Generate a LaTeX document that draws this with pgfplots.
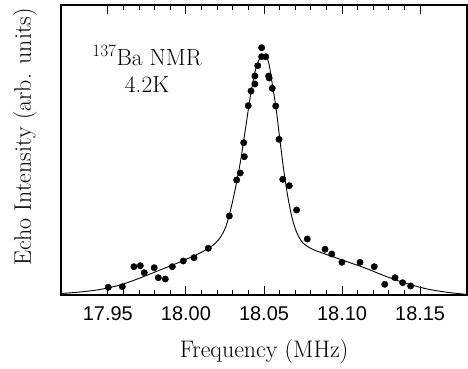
\documentclass[border=0pt]{standalone}
\usepackage{fontspec}
\usepackage{pgfplots}
\pgfplotsset{compat=1.18}
\newfontfamily\tickfont{Liberation Sans}
\begin{document}
\begin{tikzpicture}
\begin{axis}[
  scale only axis,
  width=406bp, height=290bp,
  xmin=17.92, xmax=18.18,
  ymin=0, ymax=290,
  axis line style={line width=1.3pt},
  xtick={17.95,18.00,18.05,18.10,18.15},
  minor x tick num=4,
  ytick=\empty,
  tick align=inside,
  xtick pos=both,
  major tick length=9bp,
  minor tick length=5bp,
  every tick/.style={black, line width=0.9pt},
  /pgf/number format/assume math mode=true,
  xticklabel style={font=\tickfont\fontsize{20}{24}\selectfont, yshift=-8bp},
  xticklabel={\pgfmathprintnumber[fixed,fixed zerofill,precision=2]{\tick}},
  xlabel={Frequency (MHz)},
  xlabel style={font=\fontsize{24}{28}\selectfont, at={(axis description cs:0.5,0)}, anchor=base, yshift=-62bp},
  ylabel={Echo Intensity (arb. units)},
  ylabel style={font=\fontsize{24}{28}\selectfont, at={(axis description cs:0,0.545)}, anchor=base, yshift=30bp},
  clip=false,
]
% fitted curve (traced)
\addplot[black, line width=0.9pt, smooth] coordinates {
(17.9200,1.5) (17.9322,3) (17.9450,5.5) (17.9578,10) (17.9706,17)
(17.9834,25) (17.9962,33) (18.0090,42) (18.0167,49) (18.0218,57)
(18.0257,69) (18.0289,87) (18.0321,110) (18.0353,137) (18.0385,170)
(18.0417,203) (18.0449,227) (18.0474,237) (18.0494,240) (18.0513,239)
(18.0532,231) (18.0551,213) (18.0577,187) (18.0602,155) (18.0628,123)
(18.0654,97) (18.0680,77) (18.0711,62) (18.0750,52) (18.0807,46)
(18.0891,41) (18.1019,34) (18.1147,27) (18.1275,19) (18.1403,12)
(18.1531,6.5) (18.1659,3) (18.1800,0.5)
};
% data points
\addplot[only marks, mark=*, mark size=3.2bp, black] coordinates {
(17.9503,7.7) (17.9593,8.3) (17.9667,28.3) (17.9708,29.3) (17.9733,22.3)
(17.9797,27.3) (17.9823,17.3) (17.9868,16) (17.9913,28.3) (17.9983,34)
(18.0052,37.3) (18.0143,46.7) (18.0278,79) (18.0325,115) (18.0348,122)
(18.0374,138.3) (18.0370,152.3) (18.0399,189.3) (18.0417,204) (18.0442,211)
(18.0442,219) (18.0460,229.3) (18.0485,247.3) (18.0485,238.3) (18.0511,238.3)
(18.0530,219) (18.0533,217) (18.0553,206.7) (18.0575,189) (18.0596,155.7)
(18.0620,115.7) (18.0662,109.3) (18.0709,85) (18.0777,56) (18.0891,45.7)
(18.0934,41) (18.0999,32.7) (18.1115,32.7) (18.1206,28.3) (18.1273,10.7)
(18.1339,17.3) (18.1388,12.3) (18.1439,9)
};
\node[font=\fontsize{23.5}{28}\selectfont, anchor=base] at (axis description cs:0.212,0.793) {$^{137}$Ba NMR};
\node[font=\fontsize{23.5}{28}\selectfont, anchor=base] at (axis description cs:0.212,0.700) {4.2K};
\end{axis}
\path (current axis.south west) +(-61bp,-74bp) (current axis.north east) +(1bp,5bp);
\end{tikzpicture}
\end{document}
